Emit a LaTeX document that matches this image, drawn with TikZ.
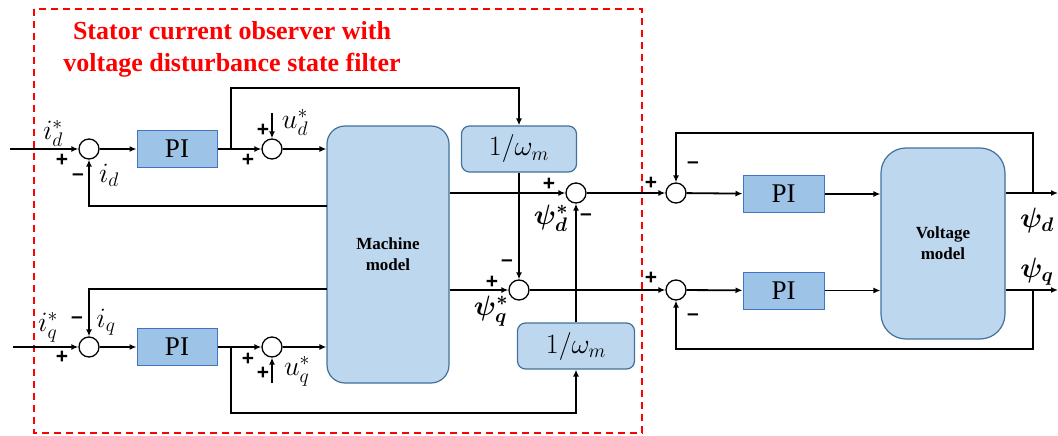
\RequirePackage{fix-cm}
\documentclass[tikz,border=0pt]{standalone}
\usepackage{bm}
\usepackage{fontspec}
\setmainfont{Liberation Serif}
\setsansfont{Liberation Sans}
\usetikzlibrary{arrows.meta}

\definecolor{pifill}{HTML}{9DC3E6}
\definecolor{piedge}{HTML}{4472C4}
\definecolor{mdlfill}{HTML}{BDD7EE}
\definecolor{mdledge}{HTML}{41719C}

\tikzset{
    sumnode/.style={circle, draw, fill=white, minimum size=20pt, inner sep=0pt, line width=1.3pt},
    piblock/.style={draw=piedge, fill=pifill, line width=1pt, minimum width=80pt, minimum height=37pt, inner sep=0pt, font=\fontsize{27}{30}\selectfont},
    mdlblock/.style={draw=mdledge, fill=mdlfill, line width=1.2pt, inner sep=0pt, align=center, font=\bfseries\fontsize{17}{21}\selectfont},
    sig/.style={line width=1.8pt, -{Latex[length=7pt,width=6pt]}},
    sgn/.style={inner sep=0pt, font=\sffamily\bfseries\fontsize{21}{21}\selectfont},
    lbl/.style={inner sep=0pt, font=\fontsize{28}{28}\selectfont},
}

\begin{document}
\begin{tikzpicture}[x=1pt, y=-1pt]
    \useasboundingbox (0,0) rectangle (1058,436);

    % observer frame
    \draw[red, line width=1.8pt, dash pattern=on 7pt off 5pt] (34,9) rectangle (642,433);
    \node[red, align=center, font=\bfseries\fontsize{26}{32}\selectfont] (ttl) at (232,49)
        {Stator current observer with\\voltage disturbance state filter};

    % blocks
    \node[sumnode] (sumDa) at (89,149) {};
    \node[piblock] (piDa) at (177,149) {PI};
    \node[sumnode] (sumDb) at (272,149) {};
    \node[sumnode] (sumQa) at (89,347) {};
    \node[piblock] (piQa) at (177,347) {PI};
    \node[sumnode] (sumQb) at (272,347) {};
    \node[mdlblock, rounded corners=18pt, minimum width=122pt, minimum height=257pt] (mach) at (388,254.5) {Machine\\model};
    \node[mdlblock, rounded corners=8pt, minimum width=115pt, minimum height=46pt, font=\fontsize{28}{28}\selectfont] (invD) at (519,149) {$1/\omega_m$};
    \node[mdlblock, rounded corners=8pt, minimum width=117pt, minimum height=46pt, font=\fontsize{28}{28}\selectfont] (invQ) at (576,346) {$1/\omega_m$};
    \node[sumnode] (sumFd) at (576,193) {};
    \node[sumnode] (sumFq) at (519,290) {};
    \node[sumnode] (sumVd) at (676,193) {};
    \node[sumnode] (sumVq) at (676,290) {};
    \node[piblock, minimum width=81pt] (piVd) at (783.5,194) {PI};
    \node[piblock, minimum width=81pt] (piVq) at (783.5,290.5) {PI};
    \node[mdlblock, rounded corners=25pt, minimum width=124pt, minimum height=191pt] (volt) at (943,243.5) {Voltage\\model};

    % helper points
    \coordinate (inD) at (10,149);
    \coordinate (inQ) at (13,347);
    \coordinate (brD) at (231,149);
    \coordinate (brQ) at (231,347);
    \coordinate (topD) at (231,88);
    \coordinate (botQ) at (231,413);
    \coordinate (udIn) at (272,113);
    \coordinate (uqIn) at (272,383);
    \coordinate (fbD) at (327,206);
    \coordinate (fbQ) at (327,289);
    \coordinate (tapD) at (1033,193);
    \coordinate (tapQ) at (1033,290);
    \coordinate (outD) at (1058,193);
    \coordinate (outQ) at (1058,290);

    % d current loop
    \draw[sig] (inD) -- (sumDa.west);
    \draw[sig] (sumDa) -- (piDa);
    \draw[sig] (piDa) -- (sumDb);
    \draw[sig] (udIn) -- (sumDb.north);
    \draw[sig] (sumDb) -- (mach.west |- sumDb);
    \draw[sig] (fbD) -| (sumDa.south);
    \draw[sig] (brD) -- (topD) -| (invD.north);

    % q current loop
    \draw[sig] (inQ) -- (sumQa.west);
    \draw[sig] (sumQa) -- (piQa);
    \draw[sig] (piQa) -- (sumQb);
    \draw[sig] (uqIn) -- (sumQb.south);
    \draw[sig] (sumQb) -- (mach.west |- sumQb);
    \draw[sig] (fbQ) -| (sumQa.north);
    \draw[sig] (brQ) -- (botQ) -| (invQ.south);

    % flux outputs
    \draw[sig] (mach.east |- sumFd) -- (sumFd.west);
    \draw[sig] (mach.east |- sumFq) -- (sumFq.west);
    \draw[sig] (invD.south) -- (sumFq.north);
    \draw[sig] (invQ.north) -- (sumFd.south);
    \draw[sig] (sumFd) -- (sumVd);
    \draw[sig] (sumFq) -- (sumVq);

    % voltage model loop
    \draw[sig] (sumVd) -- (piVd);
    \draw[sig] (piVd) -- (volt.west |- piVd);
    \draw[sig] (sumVq) -- (piVq);
    \draw[sig] (piVq) -- (volt.west |- piVq);
    \draw[sig] (volt.east |- tapD) -- (outD);
    \draw[sig] (volt.east |- tapQ) -- (outQ);
    \draw[sig] (tapD) -- ++(0,-60) -| (sumVd.north);
    \draw[sig] (tapQ) -- ++(0,59) -| (sumVq.south);

    % labels
    \node[lbl] (lIdr) at (53,133) {$i_d^*$};
    \node[lbl] (lId) at (109,175) {$i_d$};
    \node[lbl] (lUd) at (295,122) {$u_d^*$};
    \node[lbl] (lIqr) at (48,327) {$i_q^*$};
    \node[lbl] (lIq) at (106,322) {$i_q$};
    \node[lbl] (lUq) at (297,371) {$u_q^*$};
    \node[lbl] (lPd) at (551,218) {$\bm{\psi_d^*}$};
    \node[lbl] (lPq) at (491,311) {$\bm{\psi_q^*}$};
    \node[lbl] (lOd) at (1037,220) {$\bm{\psi_d}$};
    \node[lbl] (lOq) at (1037,272) {$\bm{\psi_q}$};

    % signs
    \node[sgn] (s1) at (62,160) {+};
    \node[sgn] (s2) at (78,177) {--};
    \node[sgn] (s3) at (263,130) {+};
    \node[sgn] (s4) at (248,160) {+};
    \node[sgn] (s5) at (62,357) {+};
    \node[sgn] (s6) at (77,320) {--};
    \node[sgn] (s7) at (248,359) {+};
    \node[sgn] (s8) at (263,373) {+};
    \node[sgn] (s9) at (549,184) {+};
    \node[sgn] (s10) at (586,217) {--};
    \node[sgn] (s11) at (492,282) {+};
    \node[sgn] (s12) at (507,263) {--};
    \node[sgn] (s13) at (651,183) {+};
    \node[sgn] (s14) at (693,165) {--};
    \node[sgn] (s15) at (651,278) {+};
    \node[sgn] (s16) at (693,317) {--};

\end{tikzpicture}
\end{document}
